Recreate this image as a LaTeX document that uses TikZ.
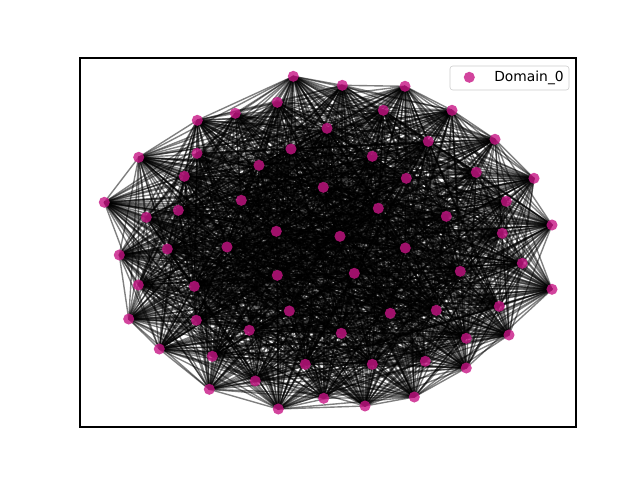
\documentclass[tikz,border=0pt]{standalone}
\usepackage{fontspec}
\setmainfont{DejaVu Sans}
\definecolor{domcol}{HTML}{C71585}
\pgfdeclarelayer{bg}
\pgfsetlayers{bg,main}

\begin{document}
\begin{tikzpicture}
  [
    x = 0.01in, y = -0.01in,
    vertex/.style = {circle, fill = domcol, fill opacity = 0.8, inner sep = 0pt, minimum size = 8pt},
    link/.style = {black, opacity = 0.5, line width = 1pt},
  ]

  \useasboundingbox (0,0) rectangle (640,480);

  % axes frame
  \draw [line width = 0.8pt] (80,58) rectangle (576,427);

  % vertices
  \foreach \p [count = \k] in {
      (293.3,76.3), (342.3,85.3), (405,86.3), (452,110.3), (495,139.3),
      (534,178.3), (552,225), (552,289.3), (509,335), (466.3,368),
      (414.3,397), (365,406), (323.7,398.3), (278.3,409), (209.3,389.3),
      (159.3,349), (128.7,319), (119.3,255), (104.3,202.3), (138.7,157.3),
      (197.3,120.3), (235.3,113.3), (277.3,102.3), (327,128.3), (383.3,110.3),
      (428.3,141.3), (476.3,172.3), (506.3,201.3), (502.3,233.3), (522.3,263.3),
      (499.3,306.3), (466.3,338.3), (425.3,361.3), (372.3,364.3), (341.3,333.3),
      (305.3,364.3), (255.3,381), (212.3,356.3), (196.3,320.3), (138.3,285),
      (167.3,249), (146.3,217.3), (184.3,176.3), (197,153.3), (259,165.3),
      (291,149), (372.3,156.3), (406.3,178.3), (446.3,216.3), (460.3,271.3),
      (436.3,310.3), (390.3,313.3), (354.3,273.3), (277.3,275.3), (249.3,330.3),
      (289.3,311), (227,247), (241.3,200.3), (178.3,210.3), (323.3,187.3),
      (378.3,208.3), (405.3,248), (340,236.3), (276.3,231.3), (194.3,286.3)}
    \node [vertex] (d\k) at \p {};

  % edges
  \pgfmathsetseed{2024}
  \begin{pgfonlayer}{bg}
    \foreach \i in {1,...,64}{
        \pgfmathtruncatemacro{\jstart}{\i+1}
        \foreach \j in {\jstart,...,65} {
            \pgfmathtruncatemacro{\keep}{rnd<0.75}
            \ifnum\keep=1
              \draw [link] (d\i.center) -- (d\j.center);
            \fi
          }
      }
  \end{pgfonlayer}

  % legend
  \draw [draw = black!20, fill = white, fill opacity = 0.8, rounded corners = 2pt] (450,66) rectangle (569,90);
  \node [vertex] (legmark) at (469.3,77.3) {};
  \node [anchor = west, font = \fontsize{10}{12}\selectfont, inner sep = 0pt] (legtext) at (494,77.5) {Domain\_0};

\end{tikzpicture}
\end{document}
